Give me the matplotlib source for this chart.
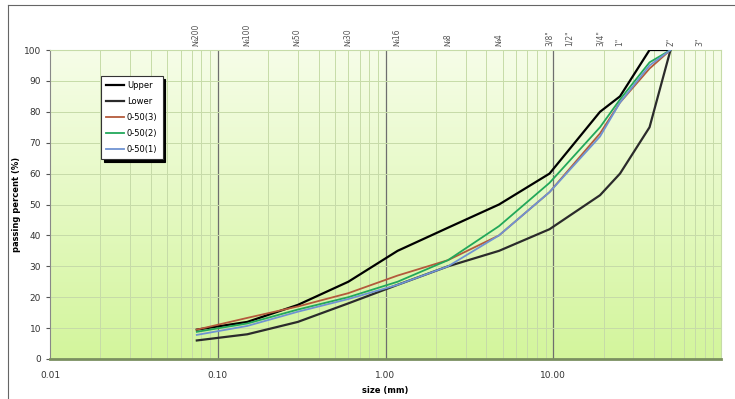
import matplotlib
matplotlib.use("Agg")
import matplotlib.pyplot as plt
import numpy as np
from matplotlib.lines import Line2D
from matplotlib.colors import LinearSegmentedColormap
import matplotlib.transforms as mtransforms

# sieve sizes (mm) used for the curves
sizes = [0.075, 0.15, 0.3, 0.6, 1.18, 2.36, 4.75, 9.5, 19, 25, 37.5, 50]

upper = [9.5, 12, 17.5, 25, 35, 42.5, 50, 60, 80, 85, 100, 100]
lower = [6, 8, 12, 18, 24, 30, 35, 42, 53, 60, 75, 100]
mix3 = [9.5, 13.3, 17, 21.3, 27, 32, 40, 54, 73, 83, 94, 100]
mix2 = [8.8, 11.5, 16, 20, 25, 32, 43, 57, 75, 84, 96, 100]
mix1 = [7.8, 10.7, 15.3, 19.4, 24, 30, 40, 54, 72, 83, 95, 100]

# labels along the top
sieve_pos = [0.075, 0.15, 0.3, 0.6, 1.18, 2.36, 4.75, 9.5, 12.5, 19, 25, 50, 75]
sieve_names = ["№200", "№100", "№50", "№30", "№16", "№8", "№4",
               '3/8"', '1/2"', '3/4"', '1"', '2"', '3"']

x_ticks = [0.01, 0.1, 1, 10]
x_tick_labels = ["0.01", "0.10", "1.00", "10.00"]

fig = plt.figure(figsize=(7.35, 3.99), dpi=100)
ax = fig.add_axes([50/735, 40/399, 671/735, 309/399])

# gradient background
cmap = LinearSegmentedColormap.from_list("bg", ["#d3f59c", "#f6fde8"])
grad = np.linspace(0, 1, 256).reshape(-1, 1)
ax.imshow(grad, cmap=cmap, aspect="auto", extent=[0, 1, 0, 1],
          transform=ax.transAxes, origin="lower", zorder=0)

ax.set_xscale("log")
ax.set_xlim(0.01, 100)
ax.set_ylim(0, 100)

# grid
for dec in [0.01, 0.1, 1, 10]:
    for k in range(2, 10):
        ax.axvline(dec * k, color="#c6dba8", lw=0.7, zorder=1)
for d in [0.1, 1, 10]:
    ax.axvline(d, color="#6e6e6e", lw=0.9, zorder=1)
for yv in range(10, 101, 10):
    ax.axhline(yv, color="#c6dba8", lw=0.7, zorder=1)

ax.plot(sizes, upper, color="black", lw=1.6, label="Upper", zorder=3)
ax.plot(sizes, lower, color="#2b2b2b", lw=1.6, label="Lower", zorder=3)
ax.plot(sizes, mix3, color="#b45a3c", lw=1.3, label="0-50(3)", zorder=3)
ax.plot(sizes, mix2, color="#22a85a", lw=1.3, label="0-50(2)", zorder=3)
ax.plot(sizes, mix1, color="#6f93d2", lw=1.3, label="0-50(1)", zorder=3)

ax.set_yticks(range(0, 101, 10))
ax.set_xticks(x_ticks)
ax.set_xticklabels(x_tick_labels)
ax.xaxis.set_minor_locator(matplotlib.ticker.NullLocator())
ax.tick_params(axis="y", labelsize=6.5, length=3, color="#555555", labelcolor="#333333")
ax.tick_params(axis="x", labelsize=6.5, length=0, pad=9, labelcolor="#333333")

for s in ["top", "right"]:
    ax.spines[s].set_color("#c6dba8")
ax.spines["left"].set_color("#888888")
ax.spines["bottom"].set_color("#7a8f60")
ax.spines["bottom"].set_linewidth(2)

ax.set_ylabel("passing percent (%)", fontsize=6, fontweight="bold", labelpad=2)
ax.set_xlabel("size (mm)", fontsize=6, fontweight="bold", labelpad=4)

trans = mtransforms.blended_transform_factory(ax.transData, ax.transAxes)
for pos, name in zip(sieve_pos, sieve_names):
    ax.text(pos, 1.012, name, transform=trans, rotation=90, ha="center",
            va="bottom", fontsize=5.5, color="#555555")

leg = ax.legend(loc="upper left", bbox_to_anchor=(0.07, 0.93), fontsize=6,
                frameon=True, fancybox=False, shadow={"color": "black", "alpha": 1},
                borderpad=0.6, labelspacing=0.85, handlelength=2.2,
                handletextpad=0.3, edgecolor="#333333")
leg.get_frame().set_facecolor("white")
leg.get_frame().set_linewidth(0.8)

# outer frame lines
fig.add_artist(Line2D([8/735, 8/735], [0, 1 - 5/399], color="#666666", lw=0.8))
fig.add_artist(Line2D([8/735, 1], [1 - 5/399, 1 - 5/399], color="#666666", lw=0.8))

fig.savefig("out.png", dpi=100)
